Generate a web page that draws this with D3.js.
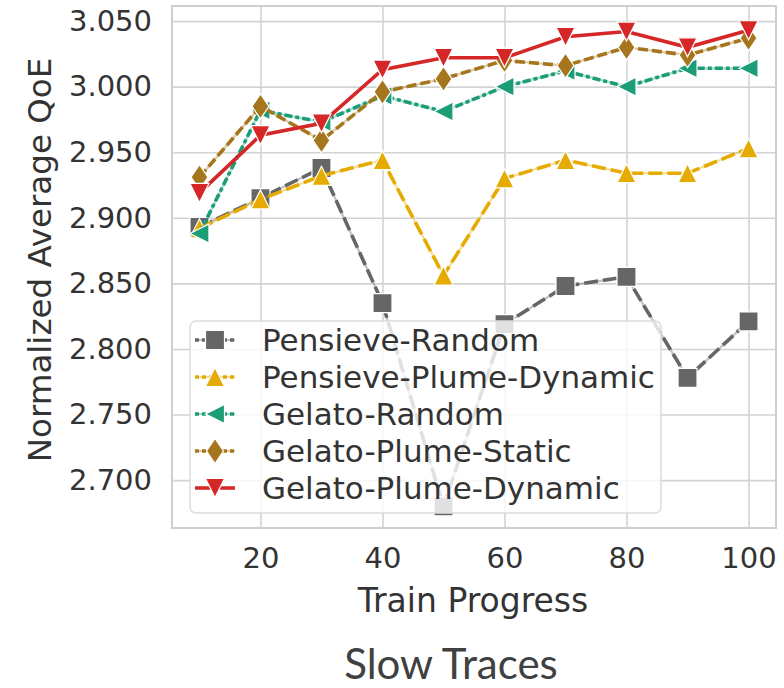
<!DOCTYPE html>
<html>
<head>
<meta charset="utf-8">
<script src="https://cdn.jsdelivr.net/npm/d3@7"></script>
<style>
  html, body { margin: 0; padding: 0; background: #fff; }
  svg { display: block; }
</style>
</head>
<body>
<svg id="chart" width="784" height="688"></svg>
<script>
// Training progress checkpoints (%)
const progress = [10, 20, 30, 40, 50, 60, 70, 80, 90, 100];

// Normalized average QoE per method
const pensieveRandom       = [2.893, 2.915, 2.938, 2.835, 2.680, 2.819, 2.848, 2.855, 2.778, 2.821];
const pensievePlumeDynamic = [2.892, 2.914, 2.932, 2.944, 2.856, 2.930, 2.944, 2.934, 2.934, 2.953];
const gelatoRandom         = [2.888, 2.982, 2.973, 2.993, 2.981, 3.000, 3.012, 3.000, 3.014, 3.014];
const gelatoPlumeStatic    = [2.931, 2.985, 2.959, 2.996, 3.006, 3.020, 3.016, 3.030, 3.024, 3.037];
const gelatoPlumeDynamic   = [2.919, 2.963, 2.972, 3.013, 3.022, 3.022, 3.038, 3.042, 3.030, 3.043];

const seriesNames = ["Pensieve-Random", "Pensieve-Plume-Dynamic", "Gelato-Random",
                     "Gelato-Plume-Static", "Gelato-Plume-Dynamic"];
const seriesValues = [pensieveRandom, pensievePlumeDynamic, gelatoRandom,
                      gelatoPlumeStatic, gelatoPlumeDynamic];

const xTicks = [20, 40, 60, 80, 100];
const yTicks = [2.70, 2.75, 2.80, 2.85, 2.90, 2.95, 3.00, 3.05];

// Per-series styling
const colors  = ["#666666", "#e6ab02", "#1b9e77", "#a6761d", "#d62728"];
const dashes  = ["14,5", "14,5", "8,3,4,3", "10,4", null];
const markers = ["square", "triangleUp", "triangleLeft", "thinDiamond", "triangleDown"];

const svg = d3.select("#chart");
const plot = { left: 172, top: 6, right: 776, bottom: 528 };
const textColor = "#333333";
const font = "'DejaVu Sans', sans-serif";

const x = d3.scaleLinear().domain([5.5, 104.5]).range([plot.left, plot.right]);
const y = d3.scaleLinear().domain([2.6635, 3.0615]).range([plot.bottom, plot.top]);

// Marker outlines, centred on the origin
function markerPath(kind) {
  const p = d3.path();
  const s = 9.5, t = 9.5;
  if (kind === "square") {
    p.rect(-s, -s, 2 * s, 2 * s);
  } else if (kind === "triangleUp") {
    p.moveTo(0, -t); p.lineTo(t, t); p.lineTo(-t, t); p.closePath();
  } else if (kind === "triangleDown") {
    p.moveTo(0, t); p.lineTo(t, -t); p.lineTo(-t, -t); p.closePath();
  } else if (kind === "triangleLeft") {
    p.moveTo(-t, 0); p.lineTo(t, -t); p.lineTo(t, t); p.closePath();
  } else if (kind === "thinDiamond") {
    const h = 12.5, w = 8.5;
    p.moveTo(0, -h); p.lineTo(w, 0); p.lineTo(0, h); p.lineTo(-w, 0); p.closePath();
  }
  return p.toString();
}

// Grid + frame
const grid = svg.append("g");
grid.append("g")
  .attr("transform", `translate(0,${plot.bottom})`)
  .call(d3.axisBottom(x).tickValues(xTicks).tickSize(-(plot.bottom - plot.top)).tickFormat(""))
  .call(g => g.select(".domain").remove())
  .call(g => g.selectAll("line").attr("stroke", "#d3d3d3").attr("stroke-width", 1.6));
grid.append("g")
  .attr("transform", `translate(${plot.left},0)`)
  .call(d3.axisLeft(y).tickValues(yTicks).tickSize(-(plot.right - plot.left)).tickFormat(""))
  .call(g => g.select(".domain").remove())
  .call(g => g.selectAll("line").attr("stroke", "#d3d3d3").attr("stroke-width", 1.6));
svg.append("rect")
  .attr("x", plot.left).attr("y", plot.top)
  .attr("width", plot.right - plot.left).attr("height", plot.bottom - plot.top)
  .attr("fill", "none").attr("stroke", "#cfcfcf").attr("stroke-width", 2);

// Tick labels
const xAxis = svg.append("g")
  .attr("transform", `translate(0,${plot.bottom})`)
  .call(d3.axisBottom(x).tickValues(xTicks).tickSize(0).tickPadding(19).tickFormat(d3.format("d")));
xAxis.select(".domain").remove();
xAxis.selectAll("text").attr("font-family", font).attr("font-size", 29).attr("fill", textColor);

const yAxis = svg.append("g")
  .attr("transform", `translate(${plot.left},0)`)
  .call(d3.axisLeft(y).tickValues(yTicks).tickSize(0).tickPadding(20).tickFormat(d3.format(".3f")));
yAxis.select(".domain").remove();
yAxis.selectAll("text").attr("font-family", font).attr("font-size", 29).attr("fill", textColor);

// Axis titles
svg.append("text")
  .attr("x", 473).attr("y", 611.5)
  .attr("text-anchor", "middle")
  .attr("font-family", font).attr("font-size", 33).attr("fill", textColor)
  .text("Train Progress");
svg.append("text")
  .attr("transform", "translate(51,260) rotate(-90)")
  .attr("text-anchor", "middle")
  .attr("font-family", font).attr("font-size", 32.5).attr("fill", textColor)
  .text("Normalized Average QoE");

// Series
const line = d3.line().x((d, i) => x(progress[i])).y(d => y(d));
seriesValues.forEach((vals, k) => {
  const g = svg.append("g");
  if (dashes[k]) {
    g.append("path").attr("d", line(vals))
      .attr("fill", "none").attr("stroke", colors[k]).attr("stroke-opacity", 0.4)
      .attr("stroke-width", 2.2);
  }
  g.append("path").attr("d", line(vals))
    .attr("fill", "none").attr("stroke", colors[k]).attr("stroke-width", 3.6)
    .attr("stroke-dasharray", dashes[k]);
  g.selectAll("path.mk").data(vals).join("path")
    .attr("class", "mk")
    .attr("transform", (d, i) => `translate(${x(progress[i])},${y(d)})`)
    .attr("d", markerPath(markers[k]))
    .attr("fill", colors[k]).attr("stroke", "#fff").attr("stroke-width", 1.2);
});

// Legend
const legend = svg.append("g").attr("transform", "translate(190,321)");
legend.append("rect")
  .attr("width", 471).attr("height", 192).attr("rx", 6)
  .attr("fill", "#fff").attr("fill-opacity", 0.8)
  .attr("stroke", "#dcdcdc").attr("stroke-width", 1.5);
seriesNames.forEach((name, k) => {
  const row = legend.append("g").attr("transform", `translate(0,${19 + k * 37})`);
  if (dashes[k]) {
    row.append("line").attr("x1", 5).attr("x2", 45)
      .attr("stroke", colors[k]).attr("stroke-opacity", 0.4).attr("stroke-width", 2.2);
  }
  row.append("line").attr("x1", 5).attr("x2", 45)
    .attr("stroke", colors[k]).attr("stroke-width", 3.6)
    .attr("stroke-dasharray", dashes[k] ? "4,3" : null);
  row.append("path").attr("transform", "translate(25,0)")
    .attr("d", markerPath(markers[k]))
    .attr("fill", colors[k]).attr("stroke", "#fff").attr("stroke-width", 1.2);
  row.append("text").attr("x", 72).attr("dy", "0.36em")
    .attr("font-family", font).attr("font-size", 31).attr("fill", textColor)
    .text(name);
});

// Caption
svg.append("text")
  .attr("x", 451).attr("y", 679)
  .attr("text-anchor", "middle")
  .attr("font-family", "Lato, 'Open Sans', sans-serif").attr("font-size", 42).attr("fill", "#404040")
  .text("Slow Traces");
</script>
</body>
</html>
